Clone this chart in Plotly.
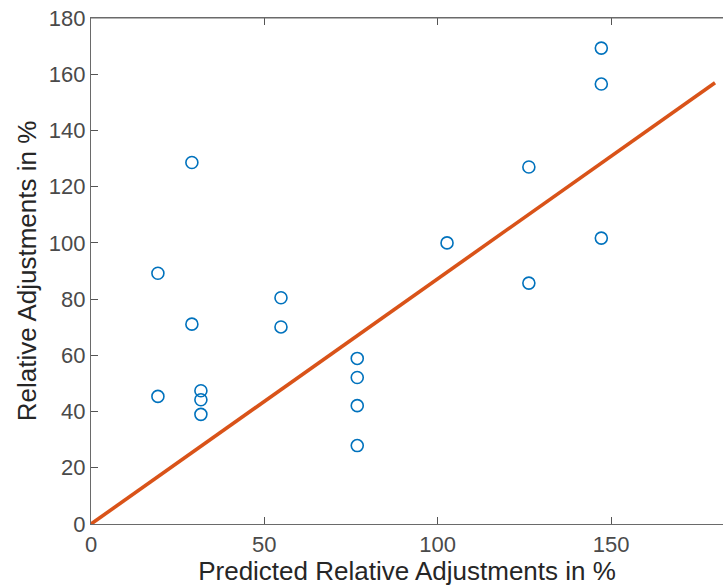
import plotly.graph_objects as go

predicted = [147.2, 147.2, 147.2, 126.3, 126.3, 102.7, 29.1, 29.1, 19.3, 19.3,
             31.7, 31.7, 31.7, 54.8, 54.8, 76.8, 76.8, 76.8, 76.8]
actual = [169.3, 156.5, 101.7, 127.0, 85.7, 100.0, 128.6, 71.1, 89.2, 45.4,
          47.4, 44.2, 39.0, 80.5, 70.1, 58.9, 52.1, 42.1, 27.9]
fit_x = [0, 180]
fit_y = [0, 157]

x_ticks = [0, 50, 100, 150]
y_ticks = [0, 20, 40, 60, 80, 100, 120, 140, 160, 180]

fig = go.Figure()
fig.add_trace(go.Scatter(
    x=predicted, y=actual, mode="markers",
    marker=dict(symbol="circle-open", size=12, color="#0072BD",
                line=dict(width=1.6, color="#0072BD")),
    showlegend=False, cliponaxis=False))
fig.add_trace(go.Scatter(
    x=fit_x, y=fit_y, mode="lines",
    line=dict(color="#D95319", width=3.6),
    showlegend=False, cliponaxis=False))

font_family = "Liberation Sans, Arial, Helvetica, sans-serif"
fig.update_layout(
    width=723, height=586,
    margin=dict(l=91, r=0, t=18, b=62),
    paper_bgcolor="white", plot_bgcolor="white",
    font=dict(family=font_family, color="#404040", size=22),
    xaxis=dict(
        range=[0, 182.3], tickvals=x_ticks, ticks="inside", ticklen=7,
        tickcolor="#555555", showline=True, linecolor="#6a6a6a", linewidth=1.2,
        mirror="ticks", showgrid=False, zeroline=False,
        tickfont=dict(size=22, color="#4a4a4a"),
        title=dict(text="Predicted Relative Adjustments in %",
                   font=dict(size=26, color="#262626"), standoff=0),
    ),
    yaxis=dict(
        range=[0, 180], tickvals=y_ticks, ticks="inside", ticklen=7,
        tickcolor="#555555", showline=True, linecolor="#6a6a6a", linewidth=1.2,
        mirror=False, showgrid=False, zeroline=False,
        tickfont=dict(size=22, color="#4a4a4a"),
        title=dict(text="Relative Adjustments in %",
                   font=dict(size=26, color="#262626"), standoff=4),
    ),
)
# top border line
fig.add_shape(type="line", xref="paper", yref="paper", x0=0, x1=1, y0=1, y1=1,
              line=dict(color="#6a6a6a", width=1.2))

fig.write_html("out.html")
